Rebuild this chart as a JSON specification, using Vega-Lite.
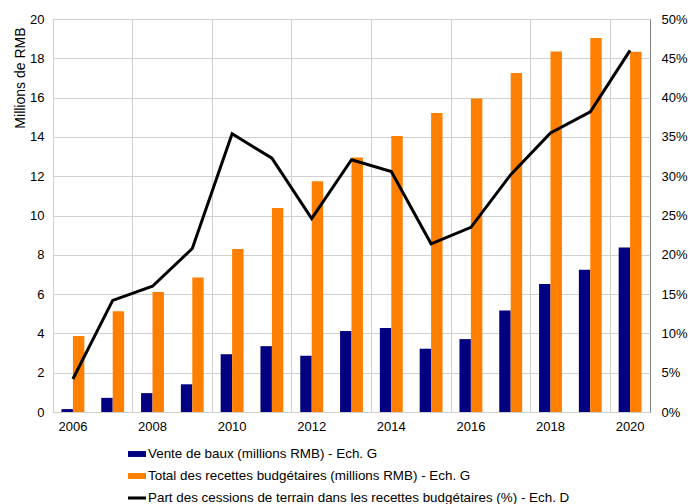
{
  "$schema": "https://vega.github.io/schema/vega-lite/v6.json",
  "width": 597,
  "height": 393,
  "autosize": {"type": "none"},
  "padding": {"left": 53, "top": 19, "right": 40, "bottom": 92},
  "config": {
    "font": "Liberation Sans",
    "view": {"stroke": "#808080", "strokeWidth": 1},
    "axis": {
      "labelFont": "Liberation Sans",
      "labelFontSize": 13,
      "labelColor": "#000000",
      "titleFont": "Liberation Sans",
      "titleFontSize": 14,
      "titleFontWeight": "normal",
      "titleColor": "#000000",
      "gridColor": "#d0d0d0",
      "gridOpacity": 1,
      "domain": false,
      "ticks": false
    }
  },
  "data": {
    "values": [
      {"year": 2006, "series": "Vente de baux (millions RMB) - Ech. G", "value": 0.15},
      {"year": 2007, "series": "Vente de baux (millions RMB) - Ech. G", "value": 0.72},
      {"year": 2008, "series": "Vente de baux (millions RMB) - Ech. G", "value": 0.96},
      {"year": 2009, "series": "Vente de baux (millions RMB) - Ech. G", "value": 1.41},
      {"year": 2010, "series": "Vente de baux (millions RMB) - Ech. G", "value": 2.94},
      {"year": 2011, "series": "Vente de baux (millions RMB) - Ech. G", "value": 3.35},
      {"year": 2012, "series": "Vente de baux (millions RMB) - Ech. G", "value": 2.86},
      {"year": 2013, "series": "Vente de baux (millions RMB) - Ech. G", "value": 4.12},
      {"year": 2014, "series": "Vente de baux (millions RMB) - Ech. G", "value": 4.28},
      {"year": 2015, "series": "Vente de baux (millions RMB) - Ech. G", "value": 3.22},
      {"year": 2016, "series": "Vente de baux (millions RMB) - Ech. G", "value": 3.71},
      {"year": 2017, "series": "Vente de baux (millions RMB) - Ech. G", "value": 5.17},
      {"year": 2018, "series": "Vente de baux (millions RMB) - Ech. G", "value": 6.51},
      {"year": 2019, "series": "Vente de baux (millions RMB) - Ech. G", "value": 7.24},
      {"year": 2020, "series": "Vente de baux (millions RMB) - Ech. G", "value": 8.37},
      {"year": 2006, "series": "Total des recettes budgétaires (millions RMB) - Ech. G", "value": 3.87},
      {"year": 2007, "series": "Total des recettes budgétaires (millions RMB) - Ech. G", "value": 5.13},
      {"year": 2008, "series": "Total des recettes budgétaires (millions RMB) - Ech. G", "value": 6.11},
      {"year": 2009, "series": "Total des recettes budgétaires (millions RMB) - Ech. G", "value": 6.84},
      {"year": 2010, "series": "Total des recettes budgétaires (millions RMB) - Ech. G", "value": 8.30},
      {"year": 2011, "series": "Total des recettes budgétaires (millions RMB) - Ech. G", "value": 10.38},
      {"year": 2012, "series": "Total des recettes budgétaires (millions RMB) - Ech. G", "value": 11.74},
      {"year": 2013, "series": "Total des recettes budgétaires (millions RMB) - Ech. G", "value": 12.95},
      {"year": 2014, "series": "Total des recettes budgétaires (millions RMB) - Ech. G", "value": 14.05},
      {"year": 2015, "series": "Total des recettes budgétaires (millions RMB) - Ech. G", "value": 15.22},
      {"year": 2016, "series": "Total des recettes budgétaires (millions RMB) - Ech. G", "value": 15.96},
      {"year": 2017, "series": "Total des recettes budgétaires (millions RMB) - Ech. G", "value": 17.25},
      {"year": 2018, "series": "Total des recettes budgétaires (millions RMB) - Ech. G", "value": 18.35},
      {"year": 2019, "series": "Total des recettes budgétaires (millions RMB) - Ech. G", "value": 19.03},
      {"year": 2020, "series": "Total des recettes budgétaires (millions RMB) - Ech. G", "value": 18.33},
      {"year": 2006, "series": "Part des cessions de terrain dans les recettes budgétaires (%) - Ech. D", "value": 4.2},
      {"year": 2007, "series": "Part des cessions de terrain dans les recettes budgétaires (%) - Ech. D", "value": 14.2},
      {"year": 2008, "series": "Part des cessions de terrain dans les recettes budgétaires (%) - Ech. D", "value": 16.0},
      {"year": 2009, "series": "Part des cessions de terrain dans les recettes budgétaires (%) - Ech. D", "value": 20.8},
      {"year": 2010, "series": "Part des cessions de terrain dans les recettes budgétaires (%) - Ech. D", "value": 35.4},
      {"year": 2011, "series": "Part des cessions de terrain dans les recettes budgétaires (%) - Ech. D", "value": 32.3},
      {"year": 2012, "series": "Part des cessions de terrain dans les recettes budgétaires (%) - Ech. D", "value": 24.6},
      {"year": 2013, "series": "Part des cessions de terrain dans les recettes budgétaires (%) - Ech. D", "value": 32.1},
      {"year": 2014, "series": "Part des cessions de terrain dans les recettes budgétaires (%) - Ech. D", "value": 30.6},
      {"year": 2015, "series": "Part des cessions de terrain dans les recettes budgétaires (%) - Ech. D", "value": 21.4},
      {"year": 2016, "series": "Part des cessions de terrain dans les recettes budgétaires (%) - Ech. D", "value": 23.5},
      {"year": 2017, "series": "Part des cessions de terrain dans les recettes budgétaires (%) - Ech. D", "value": 30.2},
      {"year": 2018, "series": "Part des cessions de terrain dans les recettes budgétaires (%) - Ech. D", "value": 35.5},
      {"year": 2019, "series": "Part des cessions de terrain dans les recettes budgétaires (%) - Ech. D", "value": 38.2},
      {"year": 2020, "series": "Part des cessions de terrain dans les recettes budgétaires (%) - Ech. D", "value": 46.0}
    ]
  },
  "layer": [
    {
      "transform": [{"filter": "datum.series !== 'Part des cessions de terrain dans les recettes budgétaires (%) - Ech. D'"}],
      "mark": {"type": "bar"},
      "encoding": {
        "x": {
          "field": "year",
          "type": "ordinal",
          "scale": {"paddingInner": 0, "paddingOuter": 0},
          "axis": {
            "values": [2006, 2008, 2010, 2012, 2014, 2016, 2018, 2020],
            "labelAngle": 0,
            "title": null,
            "bandPosition": 0,
            "grid": true,
            "labelPadding": 8
          }
        },
        "xOffset": {
          "field": "series",
          "type": "nominal",
          "scale": {
            "domain": ["Vente de baux (millions RMB) - Ech. G", "Total des recettes budgétaires (millions RMB) - Ech. G"],
            "paddingInner": 0,
            "paddingOuter": 0.74
          }
        },
        "y": {
          "field": "value",
          "type": "quantitative",
          "scale": {"domain": [0, 20], "nice": false},
          "axis": {
            "values": [0, 2, 4, 6, 8, 10, 12, 14, 16, 18, 20],
            "title": "Millions de RMB",
            "grid": true,
            "labelPadding": 9,
            "titleAngle": -90,
            "titleX": -40,
            "titleY": 8,
            "titleAlign": "right",
            "titleBaseline": "top"
          }
        },
        "color": {
          "field": "series",
          "type": "nominal",
          "scale": {
            "domain": ["Vente de baux (millions RMB) - Ech. G", "Total des recettes budgétaires (millions RMB) - Ech. G", "Part des cessions de terrain dans les recettes budgétaires (%) - Ech. D"],
            "range": ["#000080", "#ff8000", "#000000"]
          },
          "legend": {
            "orient": "none",
            "legendX": 75,
            "legendY": 426,
            "title": null,
            "direction": "vertical",
            "padding": 0,
            "labelFont": "Liberation Sans",
            "labelFontSize": 13.4,
            "labelColor": "#000000",
            "labelLimit": 600,
            "labelOffset": 2,
            "rowPadding": 6,
            "symbolSize": 324,
            "symbolStrokeWidth": 0,
            "encode": {
              "symbols": {
                "update": {
                  "shape": {"signal": "datum.value === 'Part des cessions de terrain dans les recettes budgétaires (%) - Ech. D' ? 'M-1,-0.17H1V0.17H-1Z' : 'M-1,-0.33H1V0.33H-1Z'"},
                  "fill": {"signal": "datum.value === 'Part des cessions de terrain dans les recettes budgétaires (%) - Ech. D' ? '#000000' : (datum.value === 'Vente de baux (millions RMB) - Ech. G' ? '#000080' : '#ff8000')"},
                  "stroke": {"value": "transparent"},
                  "opacity": {"value": 1},
                  "fillOpacity": {"value": 1}
                }
              }
            }
          }
        }
      }
    },
    {
      "transform": [{"filter": "datum.series === 'Part des cessions de terrain dans les recettes budgétaires (%) - Ech. D'"}],
      "mark": {"type": "line", "strokeWidth": 3},
      "encoding": {
        "x": {"field": "year", "type": "ordinal"},
        "y": {
          "field": "value",
          "type": "quantitative",
          "scale": {"domain": [0, 50], "nice": false},
          "axis": {
            "orient": "right",
            "values": [0, 5, 10, 15, 20, 25, 30, 35, 40, 45, 50],
            "labelExpr": "datum.value + '%'",
            "title": null,
            "grid": false,
            "labelPadding": 11
          }
        },
        "color": {
          "field": "series",
          "type": "nominal",
          "scale": {
            "domain": ["Vente de baux (millions RMB) - Ech. G", "Total des recettes budgétaires (millions RMB) - Ech. G", "Part des cessions de terrain dans les recettes budgétaires (%) - Ech. D"],
            "range": ["#000080", "#ff8000", "#000000"]
          }
        }
      }
    }
  ],
  "resolve": {"scale": {"y": "independent"}}
}
